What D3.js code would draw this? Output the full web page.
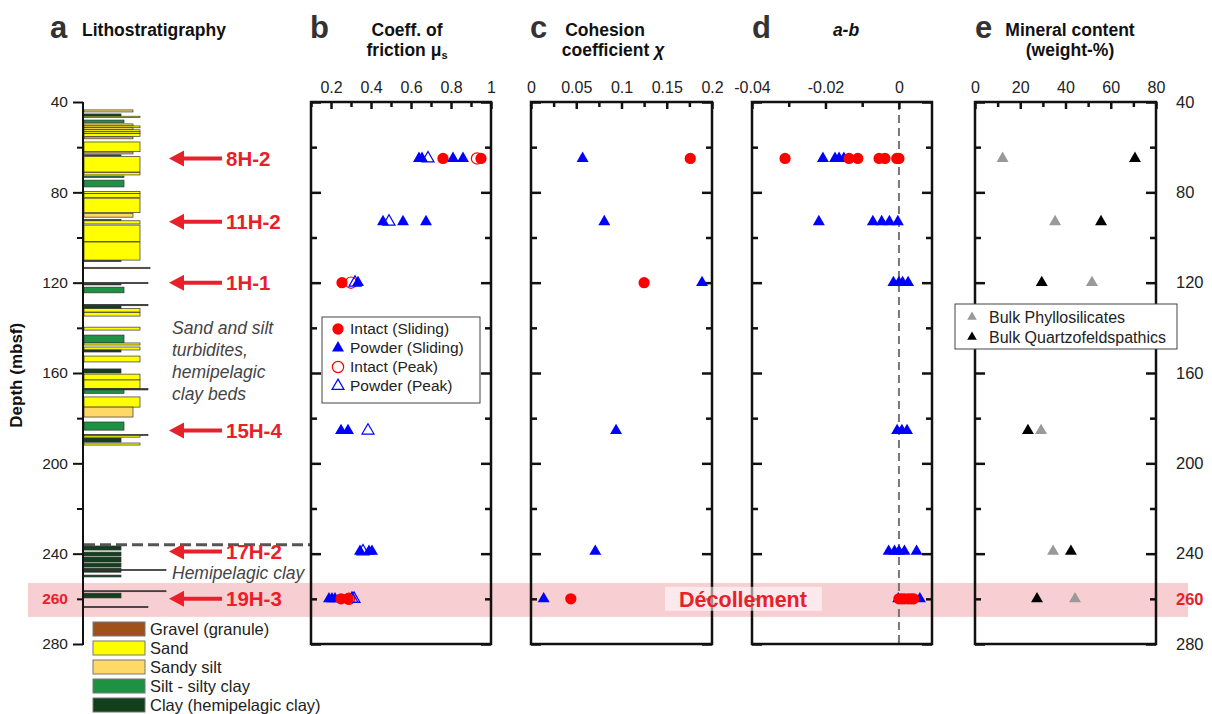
<!DOCTYPE html>
<meta charset="utf-8">
<style>
body { margin: 0; background: #fff; }
text { font-family: Arial, "Liberation Sans", sans-serif; }
</style>
<body>
<script src="https://cdn.jsdelivr.net/npm/d3@7"></script>
<script>

// ---- data ----
var sampleNames = ["8H-2", "11H-2", "1H-1", "15H-4", "17H-2", "19H-3"];
var sampleDepths = [65, 93, 120, 185.5, 239, 260];

// friction coefficient (depth, mu)
var intactSlidingMu = [[65,0.76],[65,0.95],[120,0.255],[260,0.25],[260,0.285]];
var powderSlidingMu = [[65,0.64],[65,0.655],[65,0.81],[65,0.86],[93,0.46],[93,0.56],[93,0.675],
  [120,0.335],[185.5,0.25],[185.5,0.285],[239,0.345],[239,0.39],[239,0.405],[260,0.19],[260,0.205],[260,0.22]];
var intactPeakMu = [[65,0.93],[120,0.3],[260,0.29]];
var powderPeakMu = [[65,0.685],[93,0.49],[120,0.32],[185.5,0.385],[239,0.36],[260,0.305],[260,0.315]];

// cohesion coefficient (depth, chi)
var intactSlidingChi = [[65,0.176],[120,0.125],[260,0.044]];
var powderSlidingChi = [[65,0.057],[93,0.081],[120,0.189],[185.5,0.094],[239,0.071],[260,0.014]];

// a-b (depth, value)
var intactAB = [[65,-0.031],[65,-0.0136],[65,-0.0112],[65,-0.0054],[65,-0.0038],[65,-0.0006],[65,0.0],
  [260,0.0],[260,0.0008],[260,0.0015],[260,0.0025],[260,0.0033],[260,0.004]];
var powderAB = [[65,-0.0207],[65,-0.0174],[65,-0.0163],[65,-0.015],[93,-0.0218],[93,-0.0071],[93,-0.0047],
  [93,-0.0026],[93,-0.0003],[120,-0.0015],[120,0.0],[120,0.001],[120,0.0025],[185.5,-0.0005],[185.5,0.0008],
  [185.5,0.0022],[239,-0.0028],[239,-0.0012],[239,0.0],[239,0.0015],[239,0.0048],[260,-0.0002],[260,0.0057]];

// mineral content (depth, weight-%)
var phyllo = [[65,12.2],[93,35.4],[120,51.7],[185.5,29.2],[239,34.5],[260,44.2]];
var quartz = [[65,70.7],[93,55.7],[120,29.5],[185.5,23.4],[239,42.4],[260,27.4]];

// lithology beds: top, base, type
var litTop  = [43.5,45.3,46.3,48.0,49.7,50.6,51.4,52.3,53.2,54.0,55.5,57.7,62.2,63.4,64.2,71.2,72.8,74.6,79.6,80.6,82.6,89.3,92.0,92.6,94.5,102.0,110.2,113.2,
  119.9,120.5,122.0,129.6,130.2,131.5,133.2,139.7,143.2,146.7,148.5,149.8,152.5,158.2,160.5,163.1,166.9,167.5,170.6,175.1,181.7,187.2,187.6,188.8,191.0,
  236.6,239.3,241.5,244.2,246.4,247.0,249.5,256.4,257.5,263.4];
var litBase = [44.4,46.3,46.8,49.2,50.6,51.4,52.3,53.2,54.0,55.2,56.3,62.0,63.0,63.8,71.0,72.3,73.4,77.6,80.6,82.2,89.0,91.0,92.6,94.0,101.8,110.0,110.6,113.8,
  120.4,121.0,124.5,130.2,132.0,133.0,134.8,141.0,146.7,147.6,149.8,150.7,155.1,160.0,163.1,166.9,167.5,169.0,175.1,179.5,185.3,187.6,188.4,190.6,191.9,
  238.4,241.0,243.7,245.9,248.2,247.4,250.3,256.8,259.6,263.8];
var litType = ["SS","C","S","Si","SS","S","SS","S","S","S","SS","S","SS","C","S","S","Si","Si","S","S","S","SS","C","S","S","S","C","G",
  "B","C","Si","B","C","S","S","S","Si","S","S","C","S","C","S","S","B","Si","S","SS","Si","B","S","C","S",
  "C","C","C","C","C","BL","C","BL","C","B"];

var litNames = ["Gravel (granule)", "Sand", "Sandy silt", "Silt - silty clay", "Clay (hemipelagic clay)"];

// ---- styles ----
var litColor = {G: "#a0501a", S: "#ffff00", SS: "#ffd966", Si: "#1e9142", C: "#123f1c", B: "#222", BL: "#333"};
var litRight = {G: 150, S: 140, SS: 133, Si: 124, C: 121, B: 148, BL: 166};
var legendColors = ["#a0501a", "#ffff00", "#ffd966", "#1e9142", "#123f1c"];
var red = "#e8202a";

var width = 1212, height = 714;
var svg = d3.select("body").append("svg")
    .attr("width", width)
    .attr("height", height);

var y = d3.scaleLinear().domain([40, 280]).range([102, 644]);
var yMajor = d3.range(40, 281, 40), yMinor = d3.range(60, 281, 40);

// pink decollement band
svg.append("rect")
    .attr("x", 28).attr("width", 1160)
    .attr("y", y(253)).attr("height", y(268) - y(253))
    .attr("fill", "rgb(240,160,165)").attr("fill-opacity", 0.5);

// ---- lithology column ----
var beds = litTop.map(function(t, i) { return {top: t, base: litBase[i], type: litType[i]}; });
svg.append("g").selectAll("rect")
    .data(beds)
  .enter().append("rect")
    .attr("x", 84)
    .attr("y", function(d) { return y(d.top); })
    .attr("width", function(d) { return litRight[d.type] - 84; })
    .attr("height", function(d) { return Math.max(1, y(d.base) - y(d.top)); })
    .attr("fill", function(d) { return litColor[d.type]; })
    .attr("stroke", "#333")
    .attr("stroke-width", 0.7);

// dashed boundary
svg.append("line")
    .attr("x1", 84).attr("x2", 310)
    .attr("y1", y(236)).attr("y2", y(236))
    .attr("stroke", "#555").attr("stroke-width", 3)
    .attr("stroke-dasharray", "11,5");

// litho depth axis
svg.append("line")
    .attr("x1", 83).attr("x2", 83).attr("y1", 102).attr("y2", 645)
    .attr("stroke", "#111").attr("stroke-width", 2);
svg.append("g")
    .attr("transform", "translate(83,0)")
    .call(d3.axisLeft(y).tickValues(yMajor).tickSize(10).tickPadding(5).tickFormat(d3.format("d")))
    .call(function(g) { g.select(".domain").remove(); });
svg.append("g")
    .attr("transform", "translate(83,0)")
    .call(d3.axisLeft(y).tickValues(yMinor).tickSize(6).tickFormat(""))
    .call(function(g) { g.select(".domain").remove(); });
svg.selectAll(".tick line").attr("stroke", "#111").attr("stroke-width", 2);
svg.selectAll(".tick text").attr("font-size", 15.5).attr("fill", "#222")
    .attr("font-family", "Arial, 'Liberation Sans', sans-serif");

svg.append("text").attr("x", 68).attr("y", y(260)).attr("dy", "0.35em")
    .attr("text-anchor", "end").attr("font-size", 15.5).attr("font-weight", "bold").attr("fill", red)
    .text("260");

// right depth labels
svg.append("g").selectAll("text")
    .data(yMajor)
  .enter().append("text")
    .attr("x", 1176).attr("y", function(d) { return y(d); }).attr("dy", "0.35em")
    .attr("font-size", 16.5).attr("fill", "#222")
    .text(function(d) { return d; });
svg.append("text").attr("x", 1176).attr("y", y(260)).attr("dy", "0.35em")
    .attr("font-size", 16.5).attr("font-weight", "bold").attr("fill", red)
    .text("260");

svg.append("text")
    .attr("transform", "translate(22," + y(161) + ") rotate(-90)")
    .attr("text-anchor", "middle").attr("font-size", 17).attr("font-weight", "bold").attr("fill", "#111")
    .text("Depth (mbsf)");

// sample arrows
var arrows = svg.append("g").selectAll("g")
    .data(sampleNames)
  .enter().append("g")
    .attr("transform", function(d, i) { return "translate(0," + y(sampleDepths[i]) + ")"; });
arrows.append("line")
    .attr("x1", 180).attr("x2", 222).attr("y1", 0).attr("y2", 0)
    .attr("stroke", red).attr("stroke-width", 4);
arrows.append("path")
    .attr("d", "M169,0L184,-8L184,8Z").attr("fill", red);
arrows.append("text")
    .attr("x", 226).attr("dy", "0.36em")
    .attr("font-size", 20.5).attr("font-weight", "bold").attr("fill", red)
    .text(function(d) { return d; });

// annotations
var ann = svg.append("text").attr("font-size", 17.5).attr("font-style", "italic").attr("fill", "#444");
["Sand and silt", "turbidites,", "hemipelagic", "clay beds"].forEach(function(s, i) {
  ann.append("tspan").attr("x", 172).attr("y", 334 + i * 22).text(s);
});
svg.append("text").attr("x", 172).attr("y", 579)
    .attr("font-size", 17.5).attr("font-style", "italic").attr("fill", "#444")
    .text("Hemipelagic clay");

// ---- panels ----
var panels = [
  {x: d3.scaleLinear().domain([0.1, 1]).range([311, 491]), major: [0.2, 0.4, 0.6, 0.8, 1], minor: [0.1, 0.3, 0.5, 0.7, 0.9],
   fmt: function(d) { return d === 1 ? "1" : d3.format(".1f")(d); }},
  {x: d3.scaleLinear().domain([0, 0.2]).range([531, 712]), major: [0, 0.05, 0.1, 0.15, 0.2], minor: [0.025, 0.075, 0.125, 0.175],
   fmt: function(d) { return String(+d.toFixed(2)); }},
  {x: d3.scaleLinear().domain([-0.04, 0.009]).range([752, 932]), major: [-0.04, -0.02, 0], minor: [-0.03, -0.01],
   fmt: function(d) { return d === 0 ? "0" : d3.format(".2f")(d).replace("−", "-"); }},
  {x: d3.scaleLinear().domain([0, 80]).range([975, 1156]), major: [0, 20, 40, 60, 80], minor: [10, 30, 50, 70],
   fmt: function(d) { return d; }}
];

// dashed zero line in a-b panel
svg.append("line")
    .attr("x1", panels[2].x(0)).attr("x2", panels[2].x(0))
    .attr("y1", 102).attr("y2", 644)
    .attr("stroke", "#777").attr("stroke-width", 2).attr("stroke-dasharray", "8,5");

panels.forEach(function(p) {
  var x0 = p.x.range()[0], x1 = p.x.range()[1];
  var g = svg.append("g");
  g.append("g").attr("transform", "translate(0,102)")
      .call(d3.axisTop(p.x).tickValues(p.major).tickSize(-7).tickPadding(9).tickFormat(p.fmt));
  g.append("g").attr("transform", "translate(0,102)")
      .call(d3.axisTop(p.x).tickValues(p.minor).tickSize(-5).tickFormat(""));
  g.append("g").attr("transform", "translate(" + x0 + ",0)")
      .call(d3.axisRight(y).tickValues(yMajor).tickSize(10).tickFormat(""));
  g.append("g").attr("transform", "translate(" + x0 + ",0)")
      .call(d3.axisRight(y).tickValues(yMinor).tickSize(6).tickFormat(""));
  g.append("g").attr("transform", "translate(" + x1 + ",0)")
      .call(d3.axisLeft(y).tickValues(yMajor).tickSize(10).tickFormat(""));
  g.append("g").attr("transform", "translate(" + x1 + ",0)")
      .call(d3.axisLeft(y).tickValues(yMinor).tickSize(6).tickFormat(""));
  g.selectAll(".domain").remove();
  g.selectAll(".tick line").attr("stroke", "#111").attr("stroke-width", 2.5);
  g.selectAll(".tick text").attr("font-size", 16).attr("fill", "#222")
      .attr("font-family", "Arial, 'Liberation Sans', sans-serif");
  g.append("rect")
      .attr("x", x0).attr("y", 102).attr("width", x1 - x0).attr("height", 542)
      .attr("fill", "none").attr("stroke", "#111").attr("stroke-width", 2.5);
});

// decollement label
var dx = 743;
svg.append("rect").attr("x", dx - 78).attr("y", y(260) - 12).attr("width", 157).attr("height", 24)
    .attr("fill", "#fff").attr("fill-opacity", 0.55);
svg.append("text").attr("x", dx).attr("y", y(260)).attr("dy", "0.36em")
    .attr("text-anchor", "middle").attr("font-size", 21.5).attr("font-weight", "bold").attr("fill", red)
    .text("Décollement");

// ---- markers ----
var circle = d3.symbol().type(d3.symbolCircle).size(100);
var tri = d3.symbol().type(d3.symbolTriangle).size(62);

function plot(data, xs, shape, fill, stroke) {
  svg.append("g").selectAll("path")
      .data(data)
    .enter().append("path")
      .attr("transform", function(d) { return "translate(" + xs(d[1]) + "," + y(d[0]) + ")"; })
      .attr("d", shape)
      .attr("fill", fill)
      .attr("stroke", stroke)
      .attr("stroke-width", 1.2);
}

plot(intactPeakMu, panels[0].x, circle, "none", "#ff0000");
plot(powderSlidingMu, panels[0].x, tri, "#0000ff", "none");
plot(powderPeakMu, panels[0].x, tri, "none", "#0000ff");
plot(intactSlidingMu, panels[0].x, circle, "#ff0000", "none");

plot(powderSlidingChi, panels[1].x, tri, "#0000ff", "none");
plot(intactSlidingChi, panels[1].x, circle, "#ff0000", "none");

plot(powderAB, panels[2].x, tri, "#0000ff", "none");
plot(intactAB, panels[2].x, circle, "#ff0000", "none");

plot(phyllo, panels[3].x, tri, "#999", "none");
plot(quartz, panels[3].x, tri, "#000", "none");

// ---- titles ----
[["a", 50], ["b", 310], ["c", 530], ["d", 752], ["e", 975]].forEach(function(t) {
  svg.append("text").attr("x", t[1]).attr("y", 38)
      .attr("font-size", 31).attr("font-weight", "bold").attr("fill", "#333").text(t[0]);
});
function title(lines, x, anchor, italic) {
  var t = svg.append("text").attr("font-size", 17.5).attr("font-weight", "bold").attr("fill", "#111")
      .attr("text-anchor", anchor).attr("font-style", italic ? "italic" : null);
  lines.forEach(function(s, i) { t.append("tspan").attr("x", x).attr("y", 36 + i * 20).text(s); });
  return t;
}
title(["Lithostratigraphy"], 82, "start");
title(["Coeff. of"], 407, "middle");
var fr = svg.append("text").attr("x", 407).attr("y", 56).attr("text-anchor", "middle")
    .attr("font-size", 17.5).attr("font-weight", "bold").attr("fill", "#111");
fr.append("tspan").text("friction μ");
fr.append("tspan").attr("font-size", 11).attr("dy", 3).text("s");
title(["Cohesion"], 605, "middle");
var co = svg.append("text").attr("x", 613).attr("y", 56).attr("text-anchor", "middle")
    .attr("font-size", 17.5).attr("font-weight", "bold").attr("fill", "#111");
co.append("tspan").text("coefficient ");
co.append("tspan").attr("font-style", "italic").text("χ");
title(["a-b"], 846, "middle", true);
title(["Mineral content", "(weight-%)"], 1070, "middle");

// ---- legends ----
var lb = svg.append("g").attr("transform", "translate(322,317)");
lb.append("rect").attr("width", 158).attr("height", 86)
    .attr("fill", "#fff").attr("stroke", "#444").attr("stroke-width", 1);
var lbItems = [
  ["Intact (Sliding)", circle, "#ff0000", "none"],
  ["Powder (Sliding)", tri, "#0000ff", "none"],
  ["Intact (Peak)", circle, "none", "#ff0000"],
  ["Powder (Peak)", tri, "none", "#0000ff"]
];
lbItems.forEach(function(it, i) {
  lb.append("path").attr("transform", "translate(16," + (12 + i * 19) + ")")
      .attr("d", it[1]).attr("fill", it[2]).attr("stroke", it[3]).attr("stroke-width", 1.2);
  lb.append("text").attr("x", 28).attr("y", 12 + i * 19).attr("dy", "0.35em")
      .attr("font-size", 15.5).attr("fill", "#222").text(it[0]);
});

var le = svg.append("g").attr("transform", "translate(955,304)");
le.append("rect").attr("width", 222).attr("height", 45)
    .attr("fill", "#fff").attr("stroke", "#444").attr("stroke-width", 1);
[["Bulk Phyllosilicates", "#999"], ["Bulk Quartzofeldspathics", "#000"]].forEach(function(it, i) {
  le.append("path").attr("transform", "translate(17," + (13 + i * 20) + ")")
      .attr("d", d3.symbol().type(d3.symbolTriangle).size(40)).attr("fill", it[1]);
  le.append("text").attr("x", 34).attr("y", 13 + i * 20).attr("dy", "0.35em")
      .attr("font-size", 16).attr("fill", "#222").text(it[0]);
});

var ll = svg.append("g").attr("transform", "translate(93,622)");
litNames.forEach(function(n, i) {
  ll.append("rect").attr("y", i * 19).attr("width", 52).attr("height", 14)
      .attr("fill", legendColors[i]).attr("stroke", "#777").attr("stroke-width", 1);
  ll.append("text").attr("x", 57).attr("y", i * 19 + 7).attr("dy", "0.38em")
      .attr("font-size", 16.5).attr("fill", "#222").text(n);
});

</script>
